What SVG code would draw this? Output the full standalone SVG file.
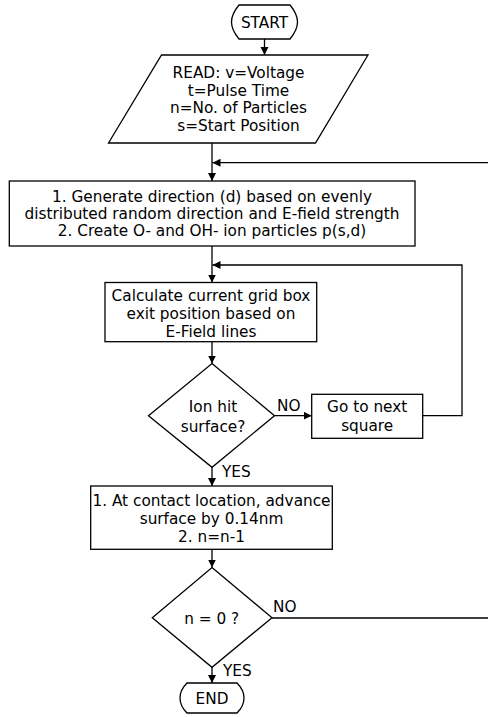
<svg xmlns="http://www.w3.org/2000/svg" width="488" height="717" viewBox="0 0 488 717">
<style>
.s{fill:#fff;stroke:#000;stroke-width:1.3}
.t{font-family:"DejaVu Sans",sans-serif;font-size:15.3px;fill:#000;text-anchor:middle}
.l{font-family:"DejaVu Sans",sans-serif;font-size:15.3px;fill:#000}
.c{fill:none;stroke:#000;stroke-width:1.3}
</style>
<defs>
<marker id="a" markerUnits="userSpaceOnUse" markerWidth="9" markerHeight="9" refX="8" refY="4" orient="auto">
<path d="M0,0 L8,4 L0,8 Z" fill="#000"/>
</marker>
</defs>
<rect width="488" height="717" fill="#fff"/>
<g id="connectors">
<line class="c" x1="264.5" y1="39" x2="264.5" y2="55" marker-end="url(#a)"/>
<line class="c" x1="212" y1="143" x2="212" y2="181" marker-end="url(#a)"/>
<path class="c" d="M272,618 H492 V162.7 H212.5" marker-end="url(#a)"/>
<line class="c" x1="212" y1="246" x2="212" y2="282.5" marker-end="url(#a)"/>
<line class="c" x1="212" y1="341.7" x2="212" y2="363.5" marker-end="url(#a)"/>
<line class="c" x1="274.5" y1="415.7" x2="311.7" y2="415.7" marker-end="url(#a)"/>
<path class="c" d="M422.7,415.7 H462 V265 H212.5" marker-end="url(#a)"/>
<line class="c" x1="212" y1="467.3" x2="212" y2="486" marker-end="url(#a)"/>
<line class="c" x1="212" y1="549.3" x2="212" y2="567.5" marker-end="url(#a)"/>
<line class="c" x1="212" y1="667.3" x2="212" y2="683" marker-end="url(#a)"/>
<text class="l" x="277" y="411">NO</text>
<text class="l" x="222" y="477">YES</text>
<text class="l" x="273" y="612">NO</text>
<text class="l" x="223" y="675.5">YES</text>
</g>
<g id="start">
<path class="s" d="M239,5 H290 C295,11 297.5,16 297.5,22 C297.5,28 295,33 290,39 H239 C234,33 231.5,28 231.5,22 C231.5,16 234,11 239,5 Z"/>
<text class="t" x="264.5" y="27.5">START</text>
</g>
<g id="read">
<path class="s" d="M161.5,55 H368 L315.5,143 H108.5 Z"/>
<text class="t" x="238.5" y="77.8">READ: v=Voltage</text>
<text class="t" x="238.5" y="95.6">t=Pulse Time</text>
<text class="t" x="238.5" y="113.4">n=No. of Particles</text>
<text class="t" x="238.5" y="131.2">s=Start Position</text>
</g>
<g id="generate">
<rect class="s" x="9.3" y="181" width="405.7" height="65"/>
<text class="t" x="212" y="202.2">1. Generate direction (d) based on evenly</text>
<text class="t" x="212" y="218.8">distributed random direction and E-field strength</text>
<text class="t" x="212" y="235.5">2. Create O- and OH- ion particles p(s,d)</text>
</g>
<g id="calculate">
<rect class="s" x="105" y="282.5" width="211.7" height="59.2"/>
<text class="t" x="211" y="300.5">Calculate current grid box</text>
<text class="t" x="211" y="318.8">exit position based on</text>
<text class="t" x="211" y="337">E-Field lines</text>
</g>
<g id="ionhit">
<path class="s" d="M212,363.5 L274.5,415.7 L212,467.3 L148.5,415.7 Z"/>
<text class="t" x="213" y="412.3">Ion hit</text>
<text class="t" x="213" y="431.8">surface?</text>
</g>
<g id="nextsquare">
<rect class="s" x="311.7" y="394.3" width="111" height="44"/>
<text class="t" x="367.2" y="412">Go to next</text>
<text class="t" x="367.2" y="431">square</text>
</g>
<g id="advance">
<rect class="s" x="90.7" y="486" width="241.6" height="63.3"/>
<text class="t" x="211.5" y="506.2">1. At contact location, advance</text>
<text class="t" x="211.5" y="524.4">surface by 0.14nm</text>
<text class="t" x="211.5" y="542.2">2. n=n-1</text>
</g>
<g id="nzero">
<path class="s" d="M212,567.5 L272,617.7 L212,667.3 L152.3,617.7 Z"/>
<text class="t" x="211.7" y="623.8">n = 0 ?</text>
</g>
<g id="end">
<path class="s" d="M187,683 H237 C242,688 244,693 244,698 C244,703 242,708 237,713 H187 C182,708 180,703 180,698 C180,693 182,688 187,683 Z"/>
<text class="t" x="212" y="703.5">END</text>
</g>
</svg>
